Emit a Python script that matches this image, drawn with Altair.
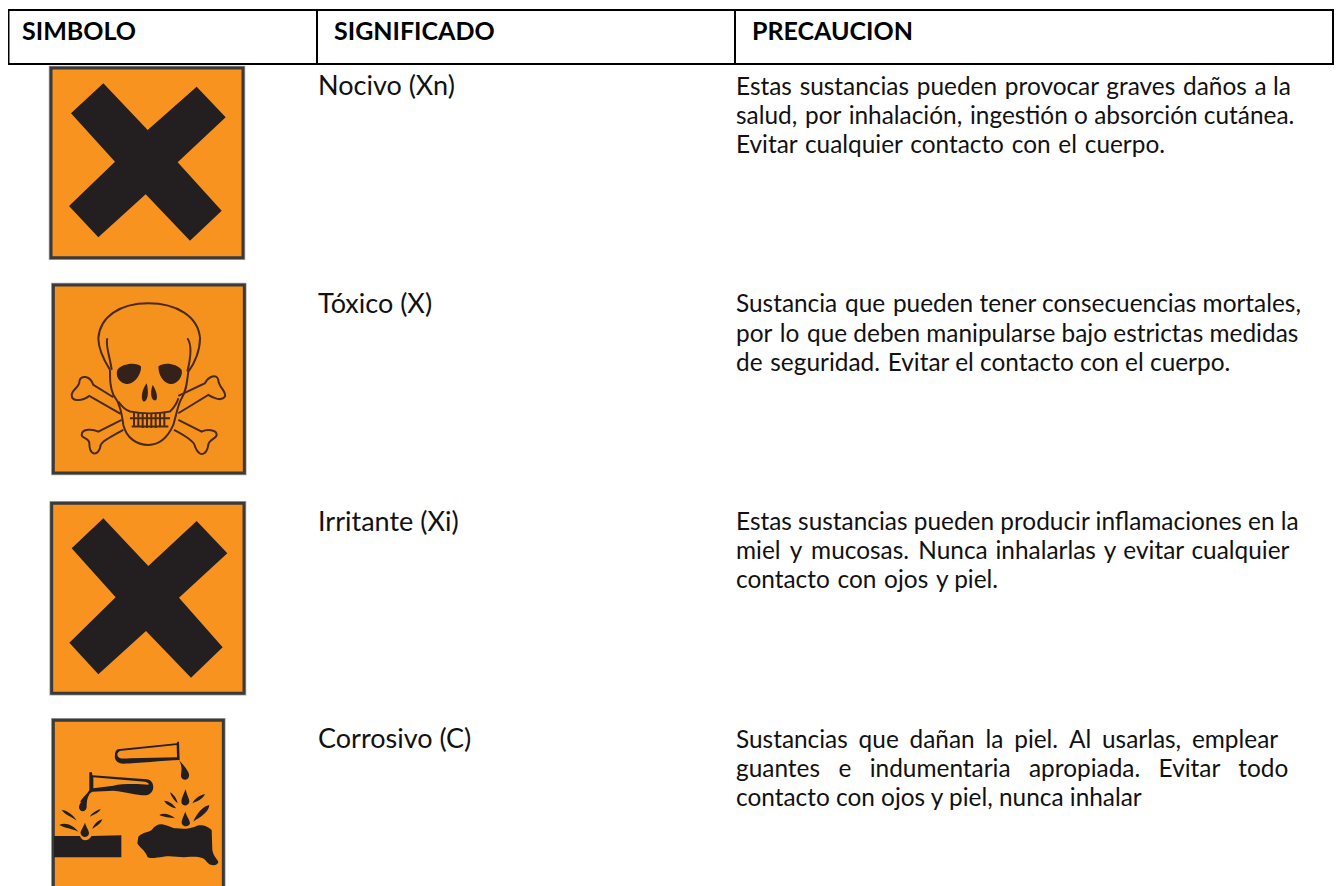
import re
import altair as alt
import pandas as pd

HEADERS = ["SIMBOLO", "SIGNIFICADO", "PRECAUCION"]
ROWS = [0, 1, 2, 3]
MEANINGS = ["Nocivo (Xn)", "Tóxico (X)", "Irritante (Xi)", "Corrosivo (C)"]
PRECAUTIONS = [
    ["Estas sustancias pueden provocar graves daños a la",
     "salud, por inhalación, ingestión o absorción cutánea.",
     "Evitar cualquier contacto con el cuerpo."],
    ["Sustancia que pueden tener consecuencias mortales,",
     "por lo que deben manipularse bajo estrictas medidas",
     "de seguridad. Evitar el contacto con el cuerpo."],
    ["Estas sustancias pueden producir inflamaciones en la",
     "miel y mucosas. Nunca inhalarlas y evitar cualquier",
     "contacto con ojos y piel."],
    ["Sustancias que dañan la piel. Al usarlas, emplear",
     "guantes e indumentaria apropiada. Evitar todo",
     "contacto con ojos y piel, nunca inhalar"],
]
# the source column is justified: hair spaces added to the word gaps of each line
EXTRA_HAIRS = [[6, 3, 5], [2, 2, 2], [0, 10, 3], [21, 40, 0]]

ORANGE = "#F7931E"
DARK = "#231F20"
BROWN = "#4A2A16"
FONT = "Lato"

def justify(line, hairs):
    words = line.split(" ")
    gaps = len(words) - 1
    out = words[0]
    for i, w in enumerate(words[1:]):
        n = hairs // gaps + (1 if i < hairs % gaps else 0)
        out += " " + "\u200a" * n + w
    return out

def rel(path, ax, ay):
    """Shift an icon outline (drawn in 3x glyph units) so the anchor is its origin."""
    i = [0]
    def f(m):
        v = float(m.group()) - (ax if i[0] % 2 == 0 else ay)
        i[0] += 1
        return f"{v:.1f}"
    return re.sub(r"-?\d+\.?\d*", f, path)

X_OUT = "M310 250 L443 390 L590 260 L677 352 L533 487 L665 632 L570 722 L437 583 L295 712 L207 618 L345 485 L213 340 Z"
X_OUT2 = "M220 85 L355 228 L500 93 L592 190 L447 323 L578 472 L483 563 L348 423 L205 553 L118 458 L257 322 L125 175 Z"

def frame(l, t, r, b):
    return f"M{l} {t} L{r} {t} L{r} {b} L{l} {b} Z"

SKULL_LINES = [
    "M272 432 L178 378 C155 395 125 395 125 375 C125 360 150 350 148 335 C150 315 180 315 190 345 L250 382",
    "M445 378 L525 340 C535 320 560 310 565 330 C565 350 590 365 585 380 C575 395 550 385 535 375 L445 430",
    "M275 450 L205 485 C190 478 155 475 155 495 C155 505 178 505 178 520 C178 555 200 560 210 535 C210 520 215 515 280 480",
    "M445 450 L515 485 C530 478 560 478 560 495 C560 505 535 510 535 525 C530 555 510 565 495 530 C495 520 480 505 432 480",
    "M240 300 C215 260 205 230 205 205 C210 140 270 100 355 100 C440 100 505 140 510 205 C510 240 495 280 475 305 C470 340 470 360 455 385 C445 400 440 430 430 465 C410 510 385 525 355 525 C320 525 290 505 280 465 C275 430 270 400 250 375 C240 350 240 330 240 300",
    "M232 205 C225 225 240 260 245 300",
    "M472 205 C487 225 482 265 472 305",
    "M265 395 C275 410 285 420 300 425 C335 432 385 432 420 425 C430 415 440 405 445 385",
    "M300 445 L420 445 M305 470 L415 470 M312 428 L312 470 M325 428 L325 472 M338 430 L338 474 M351 430 L351 474 M364 430 L364 474 M377 430 L377 474 M390 430 L390 472 M403 428 L403 470",
]
SKULL_FILLS = [
    "M262 300 C275 280 320 275 333 290 C335 315 310 345 290 342 C270 340 255 320 262 300 Z",
    "M385 290 C400 275 440 280 455 300 C460 320 440 345 420 342 C400 340 385 315 385 290 Z",
    "M350 340 C338 355 330 385 340 395 C352 397 358 370 350 340 Z",
    "M368 345 C360 365 362 390 375 392 C385 390 382 365 368 345 Z",
]
C_TUBES = [
    "M255 165 C255 150 262 147 270 147 L440 130 L442 125 L447 125 L449 180 C400 182 320 190 280 191 C260 190 252 178 255 165 Z",
    "M178 217 L186 217 L187 226 L350 238 C375 240 378 280 350 286 C320 287 290 275 250 272 L187 275 C170 285 170 300 170 305 L150 305 C160 290 170 285 178 270 Z",
]
C_INNER = [
    "M262 165 C262 155 270 152 275 152 L440 135 L441 172 L300 175 C280 176 265 178 262 165 Z",
    "M190 232 L345 245 C355 247 358 252 355 254 C330 252 280 250 250 257 L190 265 Z",
]
C_SOLID = [
    "M447 180 C455 190 480 215 477 228 C475 243 455 243 453 228 C452 215 460 205 447 180 Z",
    "M178 283 C160 295 148 310 147 322 C148 338 168 338 170 322 C170 310 170 295 178 283 Z",
    "M165 368 C158 385 150 395 152 400 C155 415 175 415 177 400 C177 390 170 385 165 368 Z",
    "M95 330 C110 330 130 345 140 362 C125 350 105 345 95 330 Z",
    "M88 375 C105 365 130 375 145 395 C125 385 105 385 88 375 Z",
    "M212 328 C200 330 185 340 180 350 C190 345 205 340 212 328 Z",
    "M217 358 C205 360 190 375 187 387 C197 380 212 372 217 358 Z",
    "M72 408 L150 408 C155 425 175 425 185 408 L274 406 L274 472 L72 472 Z",
    "M325 410 C340 395 355 398 365 390 C375 375 390 370 405 375 C420 378 425 385 440 385 C465 388 480 385 495 380 C510 372 530 375 545 390 L547 450 C550 470 565 480 565 487 C560 500 540 498 530 485 C520 470 505 470 480 470 C450 475 430 465 400 470 C380 472 360 478 352 470 C345 450 330 445 322 430 Z",
    "M467 268 C460 285 452 300 455 310 C460 320 475 318 478 305 C478 295 470 285 467 268 Z",
    "M466 335 C460 350 452 365 456 372 C462 383 478 380 480 370 C480 360 470 350 466 335 Z",
    "M420 277 C430 282 440 295 443 310 C432 302 424 290 420 277 Z",
    "M402 302 C415 302 430 312 438 325 C425 322 410 315 402 302 Z",
    "M388 345 C400 338 420 342 435 355 C420 352 400 352 388 345 Z",
    "M525 283 C510 285 495 295 487 310 C500 305 518 298 525 283 Z",
    "M538 315 C520 318 500 340 490 365 C510 350 535 340 538 315 Z",
]

ICONS = [
    (0, (444, 487), frame(153, 204, 729, 773), ORANGE, [(X_OUT, DARK)], [], []),
    (1, (354, 330), frame(70, 45, 643, 609), "#F5921E", [], [(p, BROWN) for p in SKULL_LINES], [(p, "#33211A") for p in SKULL_FILLS]),
    (2, (354, 322.5), frame(65, 40, 642, 610), ORANGE, [(X_OUT2, DARK)], [], []),
    (3, (354, 345.3), frame(70, 61, 580, 600), ORANGE, [(p, DARK) for p in C_TUBES] + [(p, ORANGE) for p in C_INNER] + [(p, DARK) for p in C_SOLID], [], []),
]

Y = alt.Y("row:Q", scale=alt.Scale(domain=[0, 3], range=[154.3, 807.1]), axis=None)
ICON_X = alt.value(140)
UNIT = 4 / 9  # glyph outlines are drawn at 3 units per pixel

layers = []

def pt(row, anchor, path, **kw):
    d = rel(path, *anchor)
    return alt.Chart(pd.DataFrame({"row": [row]})).mark_point(
        shape=d, size=UNIT, opacity=1, **kw).encode(x=ICON_X, y=Y)

for row, anchor, fr, bg, solids, lines, fills in ICONS:
    layers.append(pt(row, anchor, fr, filled=False, fill="transparent", stroke="#A9A9A9", strokeWidth=4.5))
    layers.append(pt(row, anchor, fr, filled=True, fill=bg, stroke="#3A3A3A", strokeWidth=3))
    for p, c in solids:
        layers.append(pt(row, anchor, p, filled=True, fill=c))
    for p, c in lines:
        layers.append(pt(row, anchor, p, filled=False, fill="transparent", stroke=c, strokeWidth=2))
    for p, c in fills:
        layers.append(pt(row, anchor, p, filled=True, fill=c))

# header box
box = alt.Chart(pd.DataFrame({"k": [0]}))
layers.append(box.mark_rect(fill="transparent", stroke="black", strokeWidth=2).encode(
    x=alt.value(0.5), x2=alt.value(1325), y=alt.value(2), y2=alt.value(56)))
for xp in [309, 727]:
    layers.append(box.mark_rule(color="black", strokeWidth=2).encode(
        x=alt.value(xp), y=alt.value(2), y2=alt.value(56)))

# header text
for name, xp in zip(HEADERS, [14, 326, 744]):
    layers.append(alt.Chart(pd.DataFrame({"t": [name]})).mark_text(
        font=FONT, fontSize=25, fontWeight="bold", align="left", baseline="middle", color="black"
    ).encode(x=alt.value(xp), y=alt.value(23.5), text="t:N"))

body = pd.DataFrame({
    "row": ROWS,
    "m": MEANINGS,
    "p": ["\n".join(justify(l, h) for l, h in zip(p, hs)) for p, hs in zip(PRECAUTIONS, EXTRA_HAIRS)],
})
layers.append(alt.Chart(body).mark_text(
    font=FONT, fontSize=27, align="left", baseline="top", color="#111111", dy=-88
).encode(x=alt.value(310), y=Y, text="m:N"))
layers.append(alt.Chart(body).mark_text(
    font=FONT, fontSize=24.4, align="left", baseline="top", color="#111111", dy=-86.5, lineBreak="\n", lineHeight=29.2
).encode(x=alt.value(728), y=Y, text="p:N"))

chart = alt.layer(*layers).properties(
    width=1326, height=878, padding=0, autosize="none"
).configure_view(stroke=None)

chart.save("out.html", embed_options={"renderer": "svg", "actions": False})
